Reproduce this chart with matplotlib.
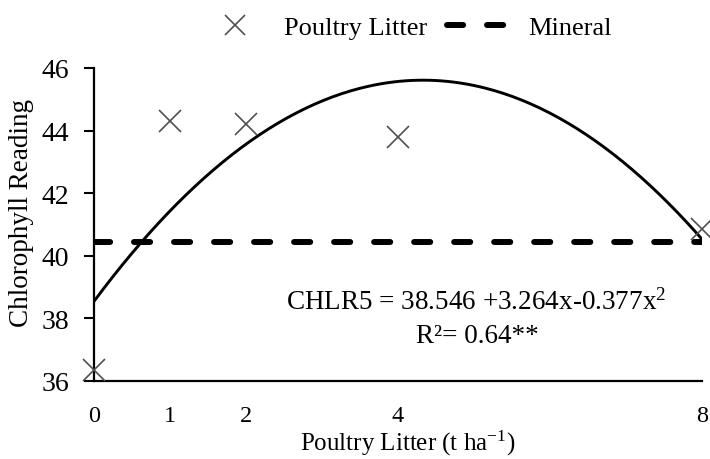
import numpy as np
import matplotlib
matplotlib.use("Agg")
import matplotlib.pyplot as plt
from matplotlib.lines import Line2D

plt.rcParams["font.family"] = ["Liberation Serif", "DejaVu Serif"]
plt.rcParams["mathtext.fontset"] = "custom"
plt.rcParams["mathtext.rm"] = "Liberation Serif"
plt.rcParams["mathtext.it"] = "Liberation Serif:italic"

# data
doses = [0, 1, 2, 4, 8]
chlr_litter = [36.35, 44.3, 44.2, 43.8, 40.85]
mineral_level = 40.44
fit_coef = [38.546, 3.264, -0.377]   # a + b x + c x^2
x_ticks = [0, 1, 2, 4, 8]
y_ticks = [36, 38, 40, 42, 44, 46]

fig = plt.figure(figsize=(7.1, 4.6), dpi=100)
ax = fig.add_axes([94/710, 1 - 382/460, 608/710, 313/460])

dash = dict(color="black", lw=4.3, dashes=(2.7, 4.0), dash_capstyle="round")

xs = np.linspace(0, 8, 200)
ys = fit_coef[0] + fit_coef[1]*xs + fit_coef[2]*xs**2
ax.plot(xs, ys, color="black", lw=2.1, zorder=3)
ax.axhline(mineral_level, zorder=2, **dash)
ax.plot(doses, chlr_litter, ls="none", marker="x", ms=16, mew=1.2,
        color="#505050", clip_on=False, zorder=4)

ax.set_xlim(0, 8)
ax.set_ylim(36, 46)
ax.set_xticks(x_ticks)
ax.set_yticks(y_ticks)
ax.tick_params(axis="x", length=0, pad=17, labelsize=17.5)
ax.tick_params(axis="y", length=7, width=1.5, direction="out", labelsize=20, pad=11)
for s in ("top", "right"):
    ax.spines[s].set_visible(False)
ax.spines["left"].set_linewidth(1.6)
ax.spines["bottom"].set_linewidth(1.6)

ax.set_ylabel("Chlorophyll Reading", fontsize=19.5)
ax.yaxis.set_label_coords((34 - 94)/608, (382 - 213)/313)
fig.text(408/710, 1 - 451/460, r"Poultry Litter (t ha$^{\mathregular{-1}}$)",
         ha="center", va="baseline", fontsize=18)

ax.text(476/710, 1 - 302/460, "CHLR5 = 38.546 +3.264x-0.377x$^2$",
        transform=fig.transFigure, ha="center", va="center", fontsize=19.5)
ax.text(477/710, 1 - 337/460, "R\u00b2= 0.64**",
        transform=fig.transFigure, ha="center", va="center", fontsize=19.5)

handles = [Line2D([], [], ls="none", marker="x", ms=14, mew=1.2, color="#505050"),
           Line2D([], [], **dash)]
fig.legend(handles, ["Poultry Litter", "Mineral"], loc="center",
           bbox_to_anchor=(407/710, 1 - 28/460), ncol=2, frameon=False,
           fontsize=19, handlelength=2.5, columnspacing=0.75, handletextpad=0.6)

fig.savefig("out.png", dpi=100, facecolor="white")
